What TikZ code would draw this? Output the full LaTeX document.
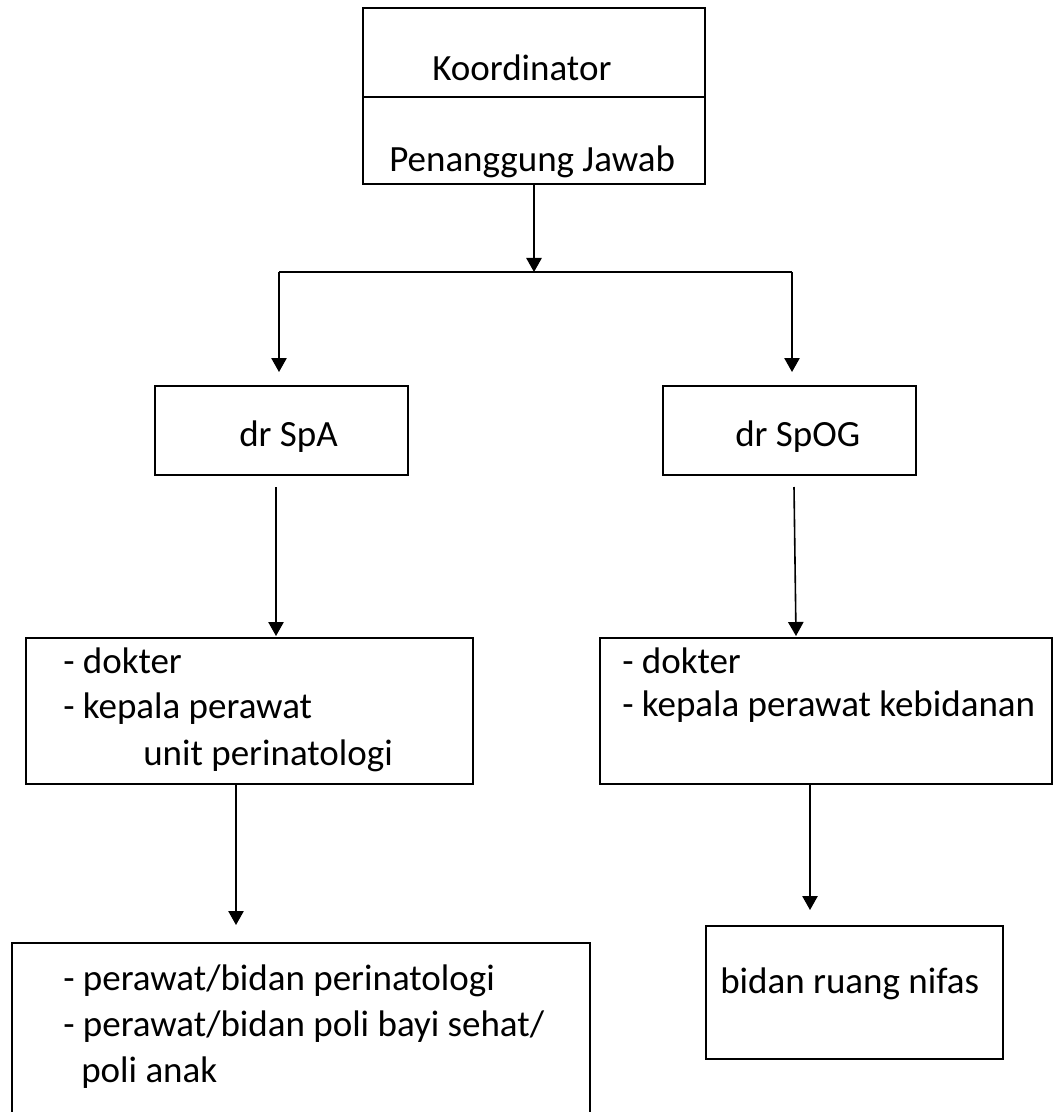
\documentclass[tikz,border=0pt]{standalone}
\usepackage{fontspec}
\setmainfont{Carlito}
\usetikzlibrary{arrows.meta}
\begin{document}
\begin{tikzpicture}[x=0.75pt,y=-0.75pt,
  box/.style={draw,line width=1.5pt,inner sep=0pt,outer sep=0pt},
  txt/.style={inner sep=0pt,anchor=base west,font=\fontsize{27.75pt}{34pt}\selectfont},
  arr/.style={line width=1.2pt,-{Triangle[length=10.5pt,width=11.5pt]}},
  ln/.style={line width=1.2pt}]
\useasboundingbox[fill=white] (0,0) rectangle (1054,1112);
% boxes
\node[box,minimum width=342*0.75pt,minimum height=89*0.75pt] (koord) at (534,52.5) {};
\node[box,minimum width=342*0.75pt,minimum height=87*0.75pt] (pj) at (534,140.5) {};
\node[box,minimum width=253*0.75pt,minimum height=89*0.75pt] (spa) at (281.5,430.5) {};
\node[box,minimum width=253*0.75pt,minimum height=89*0.75pt] (spog) at (789.5,430.5) {};
\node[box,minimum width=447*0.75pt,minimum height=146*0.75pt] (midL) at (249.5,711) {};
\node[box,minimum width=452*0.75pt,minimum height=146*0.75pt] (midR) at (826,711) {};
\node[box,minimum width=578*0.75pt,minimum height=187*0.75pt] (botL) at (301,1036.5) {};
\node[box,minimum width=297*0.75pt,minimum height=133*0.75pt] (bidan) at (854.5,992.5) {};
% texts
\node[txt] (tk) at (432,81) {Koordinator};
\node[txt] (tpj) at (389,172) {Penanggung Jawab};
\node[txt] (tspa) at (239,446) {dr SpA};
\node[txt] (tspog) at (735,446) {dr SpOG};
\node[txt] (tl1) at (63,673) {- dokter};
\node[txt] (tl2) at (63,718) {- kepala perawat};
\node[txt] (tl3) at (143,765) {unit perinatologi};
\node[txt] (tr1) at (622,673) {- dokter};
\node[txt] (tr2) at (622,716) {- kepala perawat kebidanan};
\node[txt] (tb1) at (63,990) {- perawat/bidan perinatologi};
\node[txt] (tb2) at (63,1036) {- perawat/bidan poli bayi sehat/};
\node[txt] (tb3) at (81,1082) {poli anak};
\node[txt] (tbid) at (720,993) {bidan ruang nifas};
% connector points
\coordinate (hub) at (534,272);
\coordinate (hl) at (279,272);
\coordinate (hr) at (792,272);
% connectors
\draw[arr] (pj.south) -- (hub);
\draw[ln] (hl) -- (hr);
\draw[arr] (hl) -- ([shift={(-2.5,-14)}]spa.north);
\draw[arr] (hr) -- ([shift={(2.5,-14)}]spog.north);
\draw[arr] ([shift={(-5.5,12)}]spa.south) -- ([shift={(26.5,-2)}]midL.north);
\draw[arr] ([shift={(4.5,12)}]spog.south) -- ([shift={(-30,-2)}]midR.north);
\draw[arr] ([shift={(-13.5,0)}]midL.south) -- ([shift={(-65,-18)}]botL.north);
\draw[arr] ([shift={(-16,0)}]midR.south) -- ([shift={(-44.5,-16)}]bidan.north);
\end{tikzpicture}
\end{document}
